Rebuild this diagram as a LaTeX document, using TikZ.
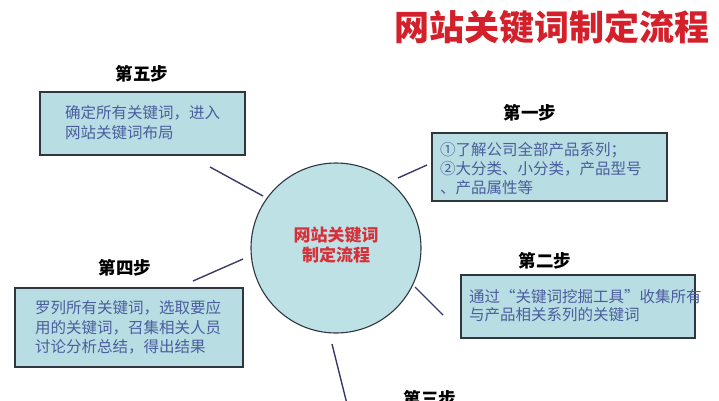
\documentclass[tikz,border=0pt]{standalone}
\usepackage{fontspec}
\newfontfamily\cjk{Noto Sans CJK SC}
\definecolor{boxfill}{HTML}{B8DDE2}
\definecolor{circfill}{HTML}{BDE1E5}
\definecolor{boxtxt}{HTML}{4A5E9E}
\definecolor{titlered}{HTML}{D4202A}
\definecolor{circred}{HTML}{D8303A}
\definecolor{conn}{HTML}{3B3B6B}
\definecolor{border}{HTML}{2F3640}
\begin{document}
\begin{tikzpicture}[x=1pt,y=-1pt,
  stepbox/.style={draw=border, line width=1.3pt, fill=boxfill, inner sep=0pt, outer sep=0pt, anchor=north west},
  boxtext/.style={font=\cjk\fontsize{15.5}{20}\selectfont, text=boxtxt, inner sep=0pt, anchor=west},
  steplabel/.style={font=\cjk\bfseries\fontsize{17.5}{20}\selectfont, text=black, inner sep=0pt},
  connector/.style={draw=conn, line width=1.4pt}]
\useasboundingbox (0,0) rectangle (719,400);
\clip (0,0) rectangle (719,400);
\fill[white] (0,0) rectangle (719,400);
% title
\node[font=\cjk\bfseries\fontsize{35}{36}\selectfont, text=titlered, inner sep=0pt] (title) at (552,27) {网站关键词制定流程};
% centre circle
\node[circle, draw=border, line width=1.1pt, fill=circfill, minimum size=170pt, inner sep=0pt] (c) at (336,248) {};
\node[font=\cjk\bfseries\fontsize{17}{20}\selectfont, text=circred, align=center, inner sep=0pt] (ctext) at (336,245) {网站关键词\\制定流程};
% step 5
\node[steplabel] (l5) at (142,74) {第五步};
\node[stepbox, minimum width=205pt, minimum height=63pt] (b5) at (40,92) {};
\node[boxtext] (t5a) at (65,113) {确定所有关键词，进入};
\node[boxtext] (t5b) at (65,133) {网站关键词布局};
% step 1
\node[steplabel] (l1) at (530,113) {第一步};
\node[stepbox, minimum width=235pt, minimum height=68pt] (b1) at (432,133) {};
\node[boxtext] (t1a) at (440,150) {①了解公司全部产品系列；};
\node[boxtext] (t1b) at (440,169) {②大分类、小分类，产品型号};
\node[boxtext] (t1c) at (440,188) {、产品属性等};
% step 4
\node[steplabel] (l4) at (125,268) {第四步};
\node[stepbox, minimum width=228pt, minimum height=79pt] (b4) at (15,288) {};
\node[boxtext] (t4a) at (35,308) {罗列所有关键词，选取要应};
\node[boxtext] (t4b) at (35,328) {用的关键词，召集相关人员};
\node[boxtext] (t4c) at (35,347) {讨论分析总结，得出结果};
% step 2
\node[steplabel] (l2) at (545,261) {第二步};
\node[stepbox, minimum width=234pt, minimum height=63pt] (b2) at (461,275) {};
\node[boxtext] (t2a) at (469,297) {通过“关键词挖掘工具”收集所有};
\node[boxtext] (t2b) at (469,315) {与产品相关系列的关键词};
% step 3
\node[steplabel] (l3) at (430,399) {第三步};
% connectors
\coordinate (s5) at (263,196); \coordinate (e5) at (210,167);
\coordinate (s1) at (398,178); \coordinate (e1) at (427,165);
\coordinate (s4) at (243,259); \coordinate (e4) at (193,281);
\coordinate (s2) at (415,287); \coordinate (e2) at (443,315);
\coordinate (s3) at (332,344); \coordinate (e3) at (347,404);
\draw[connector] (s5) -- (e5);
\draw[connector] (s1) -- (e1);
\draw[connector] (s4) -- (e4);
\draw[connector] (s2) -- (e2);
\draw[connector] (s3) -- (e3);
\end{tikzpicture}
\end{document}
